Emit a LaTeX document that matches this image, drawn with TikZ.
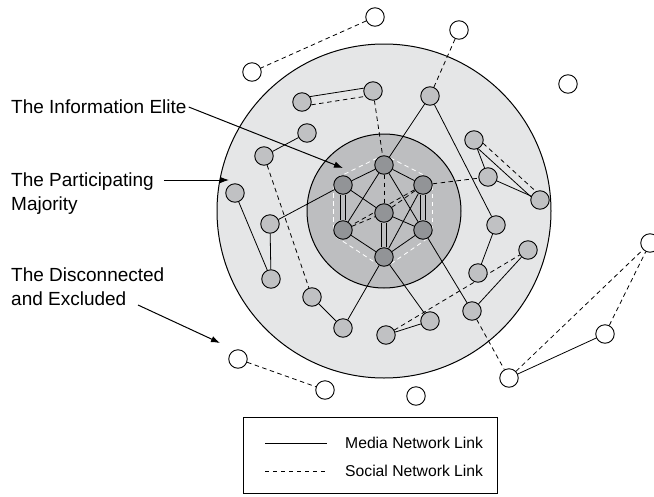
\documentclass[tikz,border=0pt]{standalone}
\usepackage{fontspec}
\setmainfont{Liberation Sans}
\usetikzlibrary{arrows.meta}

\definecolor{majority}{RGB}{229,230,231}
\definecolor{elitering}{RGB}{189,190,192}
\definecolor{member}{RGB}{192,193,195}
\definecolor{elite}{RGB}{146,148,151}

\pgfdeclarelayer{rings}
\pgfdeclarelayer{links}
\pgfsetlayers{rings,links,main}

\tikzset{
  person/.style={circle, draw, line width=0.9pt, minimum size=18.5pt, inner sep=0pt, fill=member},
  outsider/.style={person, fill=white},
  insider/.style={person, fill=elite},
  media/.style={line width=0.8pt},
  social/.style={line width=0.8pt, dash pattern=on 4.5pt off 3.5pt},
  pointer/.style={line width=1pt, -{Latex[length=9pt,width=6.5pt]}},
  caption/.style={font=\fontsize{19}{23.5}\selectfont, inner sep=0pt, align=left},
  legendtext/.style={font=\fontsize{15.7}{19}\selectfont, inner sep=0pt, anchor=west}
}

\begin{document}
\begin{tikzpicture}[x=1pt, y=-1pt]
\useasboundingbox (0,0) rectangle (654,496);

\begin{pgfonlayer}{rings}
\draw[line width=1pt, fill=majority] (384,211) circle[radius=167pt];
\draw[line width=1pt, fill=elitering] (384,211) circle[radius=77pt];
\end{pgfonlayer}

% the information elite
\node[insider] (e1) at (384,165) {};
\node[insider] (e2) at (343,185) {};
\node[insider] (e3) at (423,185) {};
\node[insider] (e0) at (384,213) {};
\node[insider] (e4) at (343,230) {};
\node[insider] (e5) at (423,230) {};
\node[insider] (e6) at (384,257) {};

% the participating majority
\node[person] (m1) at (302,102) {};
\node[person] (m2) at (373,91) {};
\node[person] (m3) at (430,96) {};
\node[person] (m4) at (307,133) {};
\node[person] (m5) at (264,156) {};
\node[person] (m6) at (235,193) {};
\node[person] (m7) at (270,224) {};
\node[person] (m8) at (271,279) {};
\node[person] (m9) at (312,297) {};
\node[person] (m10) at (343,328) {};
\node[person] (m11) at (386,335) {};
\node[person] (m12) at (430,321) {};
\node[person] (m13) at (472,311) {};
\node[person] (m14) at (478,273) {};
\node[person] (m15) at (474,140) {};
\node[person] (m16) at (488,177) {};
\node[person] (m17) at (540,200) {};
\node[person] (m18) at (496,225) {};
\node[person] (m19) at (528,250) {};

% the disconnected and excluded
\node[outsider] (o1) at (375,17) {};
\node[outsider] (o2) at (252,72) {};
\node[outsider] (o3) at (459,30) {};
\node[outsider] (o4) at (568,84) {};
\node[outsider] (o5) at (650,243) {};
\node[outsider] (o6) at (605,334) {};
\node[outsider] (o7) at (509,378) {};
\node[outsider] (o8) at (238,359) {};
\node[outsider] (o9) at (325,390) {};
\node[outsider] (o10) at (416,396) {};

\begin{pgfonlayer}{links}
% inner hexagon of social links
\draw[social, white] (e1.135) -- (e2.135);
\draw[social, white] (e2.180) -- (e4.180);
\draw[social, white] (e4.225) -- (e6.225);
\draw[social, white] (e6.-45) -- (e5.-45);
\draw[social, white] (e5.0) -- (e3.0);
\draw[social, white] (e3.45) -- (e1.45);
\foreach \a/\b in {e1/e2, e1/e3, e1/e4, e1/e5, e2/e0, e0/e5, e3/e6, e4/e6, e5/e6}
  \draw[media] (\a) -- (\b);
\foreach \a/\b in {e2/e4, e3/e5, e0/e6}
  \draw[media, double=elitering, double distance=3.5pt] (\a) -- (\b);
\foreach \a/\b in {e1/e0, e3/e4, e4/e0, e0/e3}
  \draw[social] (\a) -- (\b);
% media links
\foreach \a/\b in {m4/m5, m6/m8, m7/m8, m7/e2, m3/e1, m3/m18, m9/m10, m10/e6,
                   e6/m12, m11/m12, e5/m13, m13/m19, m14/m18, m15/m16, m16/m17, o7/o6}
  \draw[media] (\a) -- (\b);
\draw[media] (m1.34) -- (m2.163);
\draw[media] (m15.-64) -- (m17.160);
% social links
\foreach \a/\b in {m2/e1, m3/o3, m5/m9, e3/m16, m11/m19, m13/o7, o7/o5, o6/o5, o1/o2, o8/o9}
  \draw[social] (\a) -- (\b);
\draw[social] (m1.-17) -- (m2.214);
\draw[social] (m15.-20) -- (m17.116);
\end{pgfonlayer}

% labels
\node[caption, anchor=west] (elitelbl) at (11,107) {The Information Elite};
\node[caption, anchor=north west] (majlbl) at (11,173) {The Participating\\Majority};
\node[caption, anchor=north west] (exclbl) at (11,268) {The Disconnected\\and Excluded};
\coordinate (elitetip) at (343,168);
\coordinate (majtip) at (229,180);
\coordinate (exclfrom) at (138,305);
\coordinate (excltip) at (220,343);
\draw[pointer] ([xshift=2pt]elitelbl.east) -- (elitetip);
\draw[pointer] ([shift={(10pt,-7pt)}]majlbl.north east) -- (majtip);
\draw[pointer] (exclfrom) -- (excltip);

% legend
\node[draw, line width=0.9pt, anchor=north west, minimum width=254pt, minimum height=76pt] (legend) at (243,417) {};
\coordinate (mediaA) at (265,443);
\coordinate (mediaB) at (327,443);
\coordinate (socialA) at (265,471);
\coordinate (socialB) at (327,471);
\draw[media] (mediaA) -- (mediaB);
\draw[line width=0.8pt, dash pattern=on 4pt off 4pt] (socialA) -- (socialB);
\node[legendtext] (medialbl) at (345,443) {Media Network Link};
\node[legendtext] (sociallbl) at (345,471) {Social Network Link};
\end{tikzpicture}
\end{document}
